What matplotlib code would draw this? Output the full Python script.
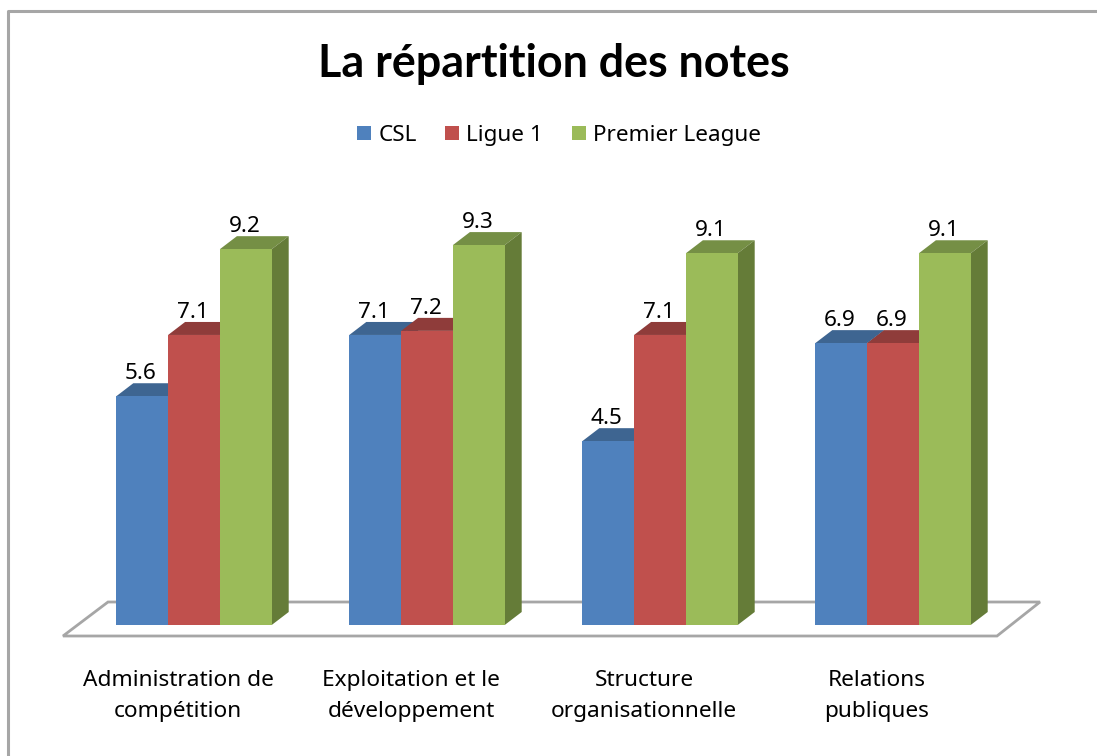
import matplotlib
matplotlib.use('Agg')
import matplotlib.pyplot as plt
from matplotlib.patches import Patch, Polygon
from matplotlib.lines import Line2D

categories = ['Administration de\ncompétition', 'Exploitation et le\ndéveloppement',
              'Structure\norganisationnelle', 'Relations\npubliques']
series_names = ['CSL', 'Ligue 1', 'Premier League']
csl = [5.6, 7.1, 4.5, 6.9]
ligue1 = [7.1, 7.2, 7.1, 6.9]
premier = [9.2, 9.3, 9.1, 9.1]

front = ['#4F81BD', '#C0504D', '#9BBB59']
top = ['#3E6591', '#8F3C3A', '#758F45']
side = ['#3A5F8B', '#8A3A38', '#657C38']

W, H = 1097, 756
plt.rcParams['font.family'] = ['Noto Sans', 'DejaVu Sans']

fig = plt.figure(figsize=(W / 100, H / 100), dpi=100, facecolor='white')

# baseline of the bars at y=625 px, 40.85 px per unit, groups 233 px apart
base_px = 625
top_px = 190
ax = fig.add_axes([0, 1 - base_px / H, 1, (base_px - top_px) / H])
ax.patch.set_alpha(0)
ax.set_xlim(-194 / 233, (W - 194) / 233)
ax.set_ylim(0, (base_px - top_px) / 40.85)
for s in ax.spines.values():
    s.set_visible(False)
ax.set_yticks([])

bar_w = 51.8 / 233
dx = 17 / 233
dy = 13 / 40.85

for i in range(len(categories)):
    for j, vals in enumerate([csl, ligue1, premier]):
        x0 = i + (j - 1.5) * bar_w
        x1 = x0 + bar_w
        v = vals[i]
        ax.fill([x0, x0 + dx, x1 + dx, x1], [v, v + dy, v + dy, v], color=top[j], lw=0, clip_on=False)
        ax.fill([x1, x1 + dx, x1 + dx, x1], [0, dy, v + dy, v], color=side[j], lw=0, clip_on=False)
        ax.bar(x0 + bar_w / 2, v, bar_w, color=front[j], lw=0, clip_on=False)
        ax.annotate(f'{v:.1f}', (x0 + bar_w / 2, v), xytext=(-1, 12.2), textcoords='offset points',
                    ha='center', va='baseline', fontsize=16.2, color='black')

ax.set_xticks([i - 16 / 233 for i in range(len(categories))])
ax.set_xticklabels(categories, fontsize=16.3, linespacing=1.6, color='black')
ax.tick_params(axis='x', length=0, pad=32.5)


def px(x, y):
    return x / W, 1 - y / H


# floor and outer frame sit behind the axes
fig.add_artist(Polygon([px(63, 636), px(108, 602), px(1040, 602), px(997, 636)], closed=True,
                       transform=fig.transFigure, facecolor='white', edgecolor='#A6A6A6',
                       lw=2, zorder=-1))
frame_x, frame_y = zip(px(8, H), px(8, 11), px(W, 11))
fig.add_artist(Line2D(frame_x, frame_y, transform=fig.transFigure, color='#A6A6A6', lw=2.2, zorder=-1))

fig.text(554 / W, 1 - 64 / H, 'La répartition des notes', ha='center', va='center',
         family=['Lato', 'DejaVu Sans'], fontweight='bold', fontsize=32.3, color='black')

handles = [Patch(facecolor=c, edgecolor='none') for c in front]
fig.legend(handles, series_names, loc='center', bbox_to_anchor=(559 / W, 1 - 135.5 / H), ncol=3,
           frameon=False, fontsize=16.2, handlelength=0.62, handleheight=0.62,
           handletextpad=0.31, columnspacing=1.27, borderpad=0)

fig.savefig('out.png', dpi=100)
